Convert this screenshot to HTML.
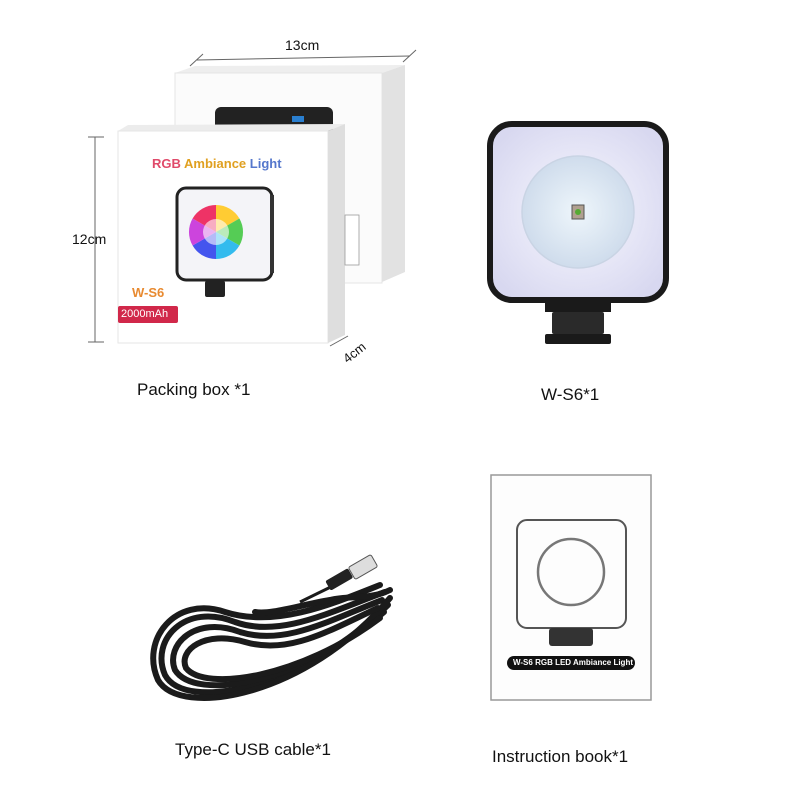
<!DOCTYPE html>
<html><head><style>
body{margin:0;background:#fff;}
.t{position:absolute;font-family:"Liberation Sans",sans-serif;color:#111;white-space:nowrap}
</style></head><body>
<div style="position:relative;width:800px;height:800px;overflow:hidden">
<svg width="800" height="800" style="position:absolute;left:0;top:0">
<defs>
<radialGradient id="lg" cx="50%" cy="50%" r="60%">
<stop offset="0" stop-color="#f8f8ff"/><stop offset="1" stop-color="#d8d8f0"/></radialGradient>
<radialGradient id="cg" cx="50%" cy="50%" r="50%">
<stop offset="0" stop-color="#eef6fb"/><stop offset="1" stop-color="#cfdcec"/></radialGradient>
<radialGradient id="wh" cx="50%" cy="50%" r="50%"><stop offset="0" stop-color="#fff"/><stop offset="1" stop-color="#fff" stop-opacity="0"/></radialGradient>
</defs>
<line x1="197" y1="60" x2="410" y2="56" stroke="#666" stroke-width="1"/>
<line x1="190" y1="66" x2="203" y2="54" stroke="#666"/><line x1="403" y1="62" x2="416" y2="50" stroke="#666"/>
<polygon points="175,73 195,66 405,65 382,73" fill="#eee"/>
<rect x="175" y="73" width="207" height="210" fill="#fbfbfb" stroke="#e4e4e4"/>
<polygon points="382,73 405,65 405,272 382,282" fill="#e2e2e2"/>
<rect x="215" y="107" width="118" height="30" rx="6" fill="#222"/>
<rect x="292" y="116" width="12" height="6" fill="#2a7fd0"/>
<polygon points="118,131 128,125 345,124 328,131" fill="#ececec"/>
<rect x="118" y="131" width="210" height="212" fill="#fff" stroke="#e6e6e6"/>
<polygon points="328,131 345,124 345,335 328,343" fill="#dedede"/>
<rect x="345" y="215" width="14" height="50" fill="#fff" stroke="#999" stroke-width="0.8"/>
<line x1="95" y1="137" x2="95" y2="342" stroke="#666"/>
<line x1="88" y1="137" x2="104" y2="137" stroke="#666"/><line x1="88" y1="342" x2="104" y2="342" stroke="#666"/>
<line x1="330" y1="346" x2="348" y2="336" stroke="#666"/>
<rect x="177" y="188" width="95" height="92" rx="9" fill="#f4f4f8" stroke="#222" stroke-width="3"/>
<rect x="270" y="195" width="4" height="78" fill="#333"/>
<g transform="translate(216,232)">
<path d="M0 0 L0 -27 A27 27 0 0 1 23.4 -13.5Z" fill="#ffcc33"/>
<path d="M0 0 L23.4 -13.5 A27 27 0 0 1 23.4 13.5Z" fill="#55cc55"/>
<path d="M0 0 L23.4 13.5 A27 27 0 0 1 0 27Z" fill="#33bbee"/>
<path d="M0 0 L0 27 A27 27 0 0 1 -23.4 13.5Z" fill="#4455ee"/>
<path d="M0 0 L-23.4 13.5 A27 27 0 0 1 -23.4 -13.5Z" fill="#cc44dd"/>
<path d="M0 0 L-23.4 -13.5 A27 27 0 0 1 0 -27Z" fill="#ee3366"/>
<circle r="13" fill="#fff" opacity="0.6"/>
</g>
<rect x="205" y="281" width="20" height="16" rx="2" fill="#222"/>
<rect x="118" y="306" width="60" height="17" rx="2" fill="#d1284a"/>
<rect x="490" y="124" width="176" height="176" rx="22" fill="url(#lg)" stroke="#1a1a1a" stroke-width="6"/>
<circle cx="578" cy="212" r="56" fill="url(#cg)" stroke="#c9d4e4" stroke-width="1.5"/>
<rect x="572" y="205" width="12" height="14" fill="#b0a090" stroke="#555"/>
<circle cx="578" cy="212" r="3" fill="#5a3"/>
<rect x="545" y="300" width="66" height="12" fill="#1a1a1a"/>
<rect x="552" y="312" width="52" height="22" rx="2" fill="#2a2a2a"/>
<rect x="545" y="334" width="66" height="10" rx="2" fill="#1a1a1a"/>
<!-- cable -->
<g fill="none" stroke="#1b1b1b" stroke-width="6" stroke-linecap="round">
<path d="M385,592 C330,612 280,638 235,622 C185,602 150,640 165,675 C185,712 300,690 388,605"/>
<path d="M382,600 C330,620 285,646 240,632 C195,615 165,645 175,670 C195,702 300,684 384,612"/>
<path d="M380,585 C330,605 275,628 225,612 C175,595 140,640 158,680 C180,718 305,698 390,598"/>
<path d="M378,608 C330,630 290,655 245,642 C205,630 178,650 186,668 C205,692 300,678 380,618"/>
<path d="M390,590 C370,600 350,595 330,600 C300,605 270,615 255,612"/>
</g>
<path d="M300,602 L345,580" stroke="#1b1b1b" stroke-width="3"/>
<rect x="350" y="560" width="26" height="14" rx="2" fill="#ddd" stroke="#555" transform="rotate(-30 363 567)"/>
<rect x="326" y="574" width="26" height="11" rx="2" fill="#222" transform="rotate(-30 339 579)"/>
<rect x="491" y="475" width="160" height="225" fill="#fdfdfd" stroke="#999" stroke-width="1.5"/>
<rect x="517" y="520" width="109" height="108" rx="10" fill="none" stroke="#555" stroke-width="2"/>
<circle cx="571" cy="572" r="33" fill="none" stroke="#777" stroke-width="2.5"/>
<rect x="549" y="628" width="44" height="18" rx="3" fill="#333"/>
<rect x="507" y="656" width="128" height="14" rx="7" fill="#111"/>
</svg>
<div class="t" style="left:285px;top:37px;font-size:14px">13cm</div>
<div class="t" style="left:72px;top:231px;font-size:14px">12cm</div>
<div class="t" style="left:342px;top:345px;font-size:13px;transform:rotate(-38deg)">4cm</div>
<div class="t" style="left:152px;top:156px;font-size:13px;font-weight:bold;color:#e04a6a">RGB <span style="color:#e0a020">Ambiance</span> <span style="color:#5577cc">Light</span></div>
<div class="t" style="left:132px;top:285px;font-size:13px;font-weight:bold;color:#e88a30">W-S6</div>
<div class="t" style="left:121px;top:308px;font-size:11px;color:#fff">2000mAh</div>
<div class="t" style="left:137px;top:380px;font-size:17px">Packing box *1</div>
<div class="t" style="left:541px;top:385px;font-size:17px">W-S6*1</div>
<div class="t" style="left:175px;top:740px;font-size:17px">Type-C USB cable*1</div>
<div class="t" style="left:492px;top:747px;font-size:17px">Instruction book*1</div>
<div class="t" style="left:513px;top:658px;font-size:8px;color:#fff;font-weight:bold">W-S6 RGB LED Ambiance Light</div>
</div>
</body></html>
